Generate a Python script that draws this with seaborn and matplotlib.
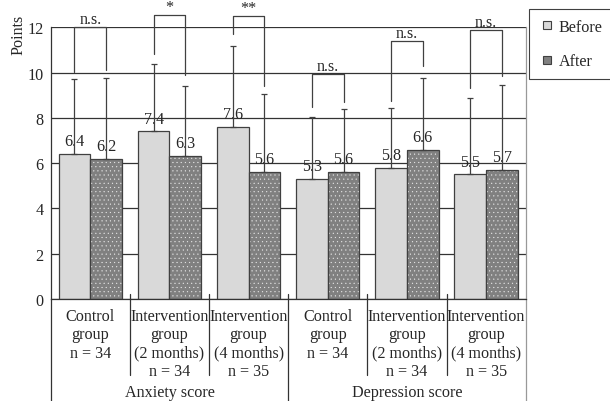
import numpy as np
import pandas as pd
import matplotlib
matplotlib.use("Agg")
import matplotlib.pyplot as plt
import seaborn as sns
from matplotlib.lines import Line2D
from matplotlib.patches import Rectangle

# ---------------- data ----------------
group_ids = ["A_ctrl", "A_int2", "A_int4", "D_ctrl", "D_int2", "D_int4"]
tick_labels = ["Control\ngroup\nn = 34",
               "Intervention\ngroup\n(2 months)\nn = 34",
               "Intervention\ngroup\n(4 months)\nn = 35",
               "Control\ngroup\nn = 34",
               "Intervention\ngroup\n(2 months)\nn = 34",
               "Intervention\ngroup\n(4 months)\nn = 35"]
domains = ["Anxiety score", "Depression score"]
times = ["Before", "After"]
before = [6.4, 7.4, 7.6, 5.3, 5.8, 5.5]
after = [6.2, 6.3, 5.6, 5.6, 6.6, 5.7]
sd_before = [3.32, 2.99, 3.59, 2.75, 2.62, 3.36]
sd_after = [3.58, 3.12, 3.45, 2.79, 3.15, 3.77]
sig_labels = ["n.s.", "*", "**", "n.s.", "n.s.", "n.s."]
bracket_top = [12.0, 12.54, 12.49, 9.94, 11.41, 11.88]
bracket_leg_before = [10.04, 10.82, 11.7, 8.49, 8.76, 9.3]
bracket_leg_after = [10.1, 9.89, 9.39, 8.69, 10.3, 9.84]
colors = {"Before": "#d9d9d9", "After": "#808080"}

df = pd.DataFrame({
    "group": group_ids * 2,
    "time": ["Before"] * 6 + ["After"] * 6,
    "value": before + after,
})

# ---------------- style ----------------
sns.set_style("white")
plt.rcParams["font.family"] = ["Liberation Serif", "DejaVu Serif"]
plt.rcParams["hatch.linewidth"] = 0.3
FS = 11.6
EC = "#404040"

fig = plt.figure(figsize=(6.1, 4.02), dpi=100)
ax = fig.add_axes([50.7 / 610, (402 - 300) / 402, 475 / 610, (300 - 28.3) / 402])

sns.barplot(data=df, x="group", y="value", hue="time", order=group_ids,
            hue_order=times, palette=colors, saturation=1, errorbar=None,
            width=0.8, edgecolor=EC, linewidth=0.9, legend=False, ax=ax)

ax.set_xlim(-0.5, 5.5)
ax.set_ylim(0, 12)
ax.set_yticks(np.arange(0, 13, 2))
ax.yaxis.grid(True, color="#333333", linewidth=0.9)
ax.xaxis.grid(False)
ax.set_axisbelow(True)

ax.spines["top"].set_visible(False)
ax.spines["left"].set_color("#333333")
ax.spines["bottom"].set_color("#333333")
ax.spines["right"].set_color("#999999")
for s in ["left", "bottom", "right"]:
    ax.spines[s].set_linewidth(0.9)

# dotted pattern for "After" bars
after_bars = ax.containers[1]
for b in after_bars:
    b.set_hatch("....")
    b.set_edgecolor("#e8e8e8")
    b.set_linewidth(0)
    ax.add_patch(Rectangle((b.get_x(), b.get_y()), b.get_width(), b.get_height(),
                           fill=False, edgecolor=EC, linewidth=0.9, zorder=b.get_zorder() + 0.1))

# value labels
for cont in ax.containers:
    ax.bar_label(cont, fmt="%.1f", padding=3.5, fontsize=FS)

# error bars (upper only)
centers = []
for cont, sds in zip(ax.containers, [sd_before, sd_after]):
    xs = [b.get_x() + b.get_width() / 2 for b in cont]
    ys = [b.get_height() for b in cont]
    centers.append(xs)
    ax.errorbar(xs, ys, yerr=[np.zeros(len(sds)), sds], fmt="none",
                ecolor=EC, elinewidth=0.9, capsize=2.5, capthick=0.9, zorder=4)

# significance brackets
for i in range(6):
    xb, xa = centers[0][i], centers[1][i]
    top = bracket_top[i]
    ax.plot([xb, xb, xa, xa], [bracket_leg_before[i], top, top, bracket_leg_after[i]],
            color=EC, linewidth=0.9, clip_on=False, zorder=5)
    ax.text((xb + xa) / 2, top, sig_labels[i], ha="center", va="bottom",
            fontsize=FS, clip_on=False)

# axis labels / ticks
ax.set_xlabel("")
ax.set_xticks(range(6))
ax.set_xticklabels(tick_labels, fontsize=FS)
ax.tick_params(axis="x", length=0, pad=6.5)
ax.tick_params(axis="y", length=0, pad=5, labelsize=FS)
ax.set_ylabel("Points", fontsize=FS)
ax.yaxis.set_label_coords(-0.05, 0.975)

# hierarchical separators
xt = ax.get_xaxis_transform()
for x in [0.5, 1.5, 3.5, 4.5]:
    ax.plot([x, x], [0.018, -0.28], transform=xt, color="#333333", lw=0.9, clip_on=False)
ax.plot([2.5, 2.5], [0.018, -0.4], transform=xt, color="#333333", lw=0.9, clip_on=False)
ax.plot([-0.5, -0.5], [0, -0.4], transform=xt, color="#333333", lw=0.9, clip_on=False)
ax.plot([5.5, 5.5], [0, -0.4], transform=xt, color="#999999", lw=0.9, clip_on=False)
for j, name in enumerate(domains):
    ax.text(1 + 3 * j, -0.342, name, transform=xt, ha="center", va="center", fontsize=FS)

# legend
handles = [Line2D([0], [0], marker="s", linestyle="none", markersize=5.5,
                  markerfacecolor=colors[t], markeredgecolor=EC, markeredgewidth=0.8)
           for t in times]
leg = fig.legend(handles, times, loc="upper left",
                 bbox_to_anchor=(529 / 610, 1 - 10 / 402), bbox_transform=fig.transFigure,
                 frameon=True, fancybox=False, edgecolor=EC, framealpha=1,
                 borderaxespad=0, borderpad=0.6, labelspacing=1.15,
                 handlelength=1.0, handletextpad=0.25, fontsize=FS)
leg.get_frame().set_linewidth(0.8)

fig.savefig("out.png", dpi=100)
